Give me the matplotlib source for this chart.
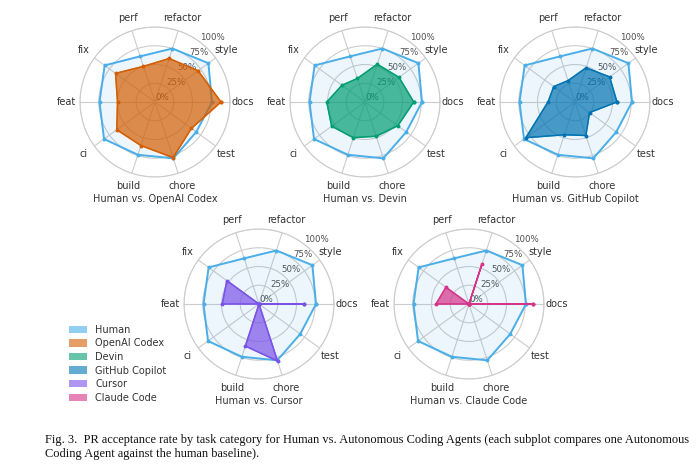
import numpy as np
import matplotlib
matplotlib.use("Agg")
import matplotlib.pyplot as plt
from matplotlib.patches import Patch

# task categories, counter-clockwise starting from the right
categories = ["docs", "style", "refactor", "perf", "fix",
              "feat", "ci", "build", "chore", "test"]

# acceptance rates (fraction of PRs merged)
human = [0.76, 0.88, 0.75, 0.64, 0.83, 0.74, 0.84, 0.74, 0.79, 0.68]
codex = [0.88, 0.71, 0.61, 0.50, 0.65, 0.50, 0.63, 0.61, 0.78, 0.60]
devin = [0.65, 0.56, 0.53, 0.33, 0.38, 0.51, 0.55, 0.50, 0.48, 0.54]
copilot = [0.56, 0.57, 0.48, 0.30, 0.35, 0.36, 0.81, 0.46, 0.47, 0.24]
cursor = [0.60, 0.0, 0.0, 0.0, 0.53, 0.49, 0.0, 0.59, 0.80, 0.0]
claude = [0.85, 0.0, 0.56, 0.0, 0.38, 0.44, 0.0, 0.0, 0.0, 0.0]

agent_names = ["OpenAI Codex", "Devin", "GitHub Copilot", "Cursor", "Claude Code"]
agent_values = [codex, devin, copilot, cursor, claude]
agent_colors = ["#d55e00", "#029e73", "#0173b2", "#7b52e8", "#d6338a"]
human_color = "#4aaee8"

r_ticks = [0, 0.25, 0.5, 0.75, 1.0]
r_labels = ["0%", "25%", "50%", "75%", "100%"]

W, H = 700, 473
fig = plt.figure(figsize=(7, 4.73), dpi=100)

# centres of each radar in pixels (x, y from top)
centres = [(155, 102), (365, 102), (575, 102), (259, 304), (469, 304)]
radius = 75

angles = np.linspace(0, 2 * np.pi, len(categories), endpoint=False)
closed = np.concatenate([angles, angles[:1]])


def close(vals):
    return np.concatenate([vals, vals[:1]])


for (cx, cy), name, vals, col in zip(centres, agent_names, agent_values, agent_colors):
    ax = fig.add_axes([(cx - radius) / W, 1 - (cy + radius) / H,
                       2 * radius / W, 2 * radius / H], projection="polar")
    ax.set_facecolor("white")
    # human baseline
    ax.fill(closed, close(human), color=human_color, alpha=0.1, zorder=2)
    ax.plot(closed, close(human), color=human_color, lw=1.4,
            marker="o", ms=1.8, zorder=3)
    # agent
    ax.fill(closed, close(vals), color=col, alpha=0.7, zorder=4)
    ax.plot(closed, close(vals), color=col, lw=1.0,
            marker="o", ms=1.8, zorder=5)

    ax.set_ylim(0, 1)
    ax.set_yticks(r_ticks)
    ax.set_yticklabels(r_labels, fontsize=6.2, color="#4d4d4d")
    ax.set_rlabel_position(53)
    ax.set_xticks(angles)
    ax.set_xticklabels(categories, fontsize=7, color="#333333")
    ax.tick_params(axis="x", pad=-1)
    ax.grid(color="#cccccc", lw=0.8)
    ax.spines["polar"].set_color("#cccccc")
    ax.spines["polar"].set_linewidth(0.8)
    fig.text(cx / W, 1 - (cy + 97) / H, "Human vs. " + name,
             ha="center", va="center", fontsize=7, color="#333333")

# legend
handles = [Patch(facecolor=human_color, alpha=0.6, label="Human")]
for name, col in zip(agent_names, agent_colors):
    handles.append(Patch(facecolor=col, alpha=0.6, label=name))
fig.legend(handles=handles, loc="upper left", bbox_to_anchor=(60 / W, 1 - 316 / H),
           frameon=False, fontsize=7, handlelength=1.9, handleheight=0.8,
           labelspacing=0.37, labelcolor="#333333")

caption = ("Fig. 3.  PR acceptance rate by task category for Human vs. Autonomous Coding Agents "
           "(each subplot compares one Autonomous\nCoding Agent against the human baseline).")
fig.text(45 / W, 1 - 434 / H, caption, ha="left", va="top", fontsize=8.9,
         family="Liberation Serif", color="#111111", linespacing=1.2)

fig.savefig("out.png", dpi=100, facecolor="white")
